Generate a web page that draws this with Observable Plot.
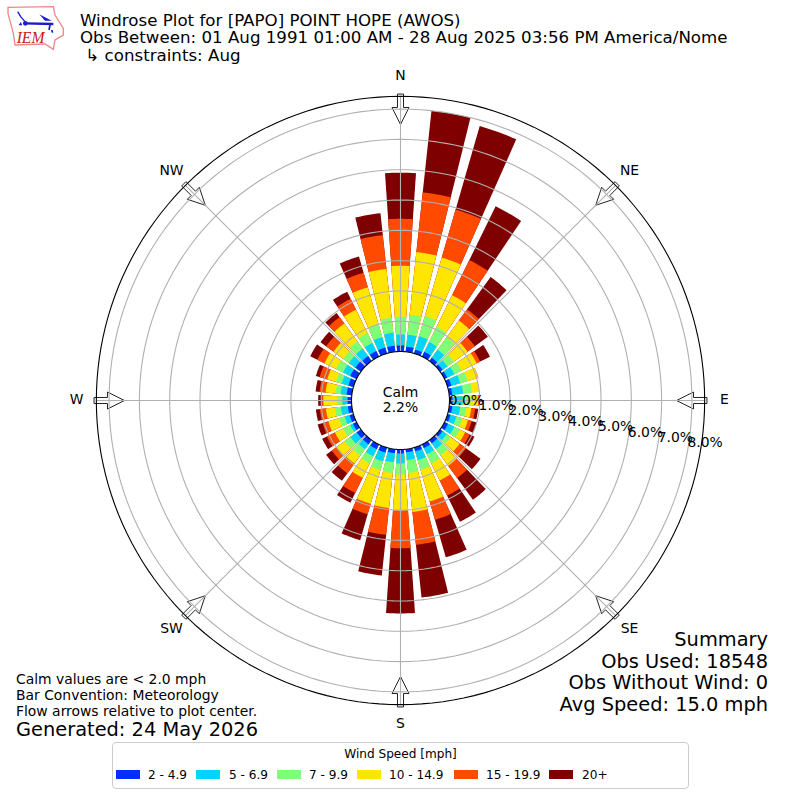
<!DOCTYPE html>
<html>
<head>
<meta charset="utf-8">
<script src="https://cdn.jsdelivr.net/npm/d3@7"></script>
<script src="https://cdn.jsdelivr.net/npm/@observablehq/plot@0.6"></script>
<style>
html,body{margin:0;padding:0;background:#fff;}
#wrap{position:relative;width:800px;height:800px;overflow:hidden;font-family:"DejaVu Sans",sans-serif;color:#000;}
#wrap svg{display:block;}
.t{position:absolute;white-space:pre;line-height:1;}
#legend{position:absolute;left:112px;top:742px;width:575px;height:45px;border:1px solid #ccc;border-radius:4px;background:#fff;box-sizing:content-box;}
#legend .lt{position:absolute;left:0;right:0;top:3px;text-align:center;font-size:12.1px;line-height:16px;}
#legend .sw{position:absolute;top:27px;height:9px;width:24px;}
#legend .lb{position:absolute;top:24px;font-size:12.1px;line-height:16px;white-space:pre;}
</style>
</head>
<body>
<div id="wrap"></div>
<script>
// Percent of observations per direction (every 10 degrees from N) and speed bin
const directions = d3.range(0, 360, 10);
const speedBins = ["2 - 4.9", "5 - 6.9", "7 - 9.9", "10 - 14.9", "15 - 19.9", "20+"];
const binColors = ["#0030ff", "#00d4ff", "#7dff7a", "#ffe600", "#ff4a00", "#7f0000"];
const bin2to5   = [.20,.17,.13,.17,.13,.10,.10,.13,.10,.10,.10,.10,.13,.10,.13,.13,.13,.10,.13,.13,.17,.17,.17,.17,.13,.13,.13,.13,.17,.17,.23,.23,.20,.20,.20,.20];
const bin5to7   = [.36,.40,.46,.36,.33,.20,.26,.30,.36,.33,.26,.20,.23,.17,.23,.23,.30,.26,.33,.30,.30,.26,.20,.26,.10,.17,.23,.17,.20,.23,.26,.26,.30,.30,.36,.43];
const bin7to10  = [.59,.66,.69,.56,.50,.26,.26,.26,.30,.26,.20,.20,.20,.17,.26,.33,.33,.43,.36,.36,.30,.26,.26,.23,.26,.20,.20,.17,.17,.20,.26,.23,.30,.36,.46,.50];
const bin10to15 = [1.68,2.08,2.01,1.16,.69,.56,.56,.36,.24,.26,.17,.20,.20,.36,.43,.63,1.09,1.29,1.19,1.16,1.16,.53,.33,.33,.30,.36,.30,.46,.33,.30,.43,.40,.73,.86,1.25,1.62];
const bin15to20 = [1.55,1.98,1.65,1.29,.46,.30,.13,.01,0,.05,.13,.13,.17,.26,.50,.56,.63,1.09,1.25,.89,.36,.56,.40,.20,.30,.20,.20,.07,.20,.26,.26,.30,.26,.40,.50,1.12];
const bin20up   = [1.52,2.71,2.87,1.98,1.32,.53,.36,0,0,0,.10,.17,.17,.59,.89,.96,1.29,1.75,2.15,1.35,.89,.36,.30,.23,.17,.17,.13,.10,.13,.13,.26,.23,.17,.26,.56,.73];
const binSeries = [bin2to5, bin5to7, bin7to10, bin10to15, bin15to20, bin20up];
const ringValues = [1,2,3,4,5,6,7,8];
const tickValues = [0,1,2,3,4,5,6,7,8];
const compass = [["N",0],["NE",45],["E",90],["SE",135],["S",180],["SW",225],["W",270],["NW",315]];

// Polar layout, in percent units
const hole = 1.617, rimPct = 8.42, halfWidth = 3.9, halfExtent = 13.2;
const rad = a => a * Math.PI / 180;
const polar = (p, a) => ({x: (hole + p) * Math.sin(rad(a)), y: (hole + p) * Math.cos(rad(a))});

function wedge(d, p) {
  const pts = [];
  for (let a = d - halfWidth; a <= d + halfWidth + 1e-6; a += halfWidth / 4) pts.push(polar(p, a));
  pts.push(polar(0, d + halfWidth), polar(0, d - halfWidth));
  return pts;
}
// Painter's order: each bin is drawn from the hole to its cumulative value, outermost first
const wedges = [];
directions.forEach((d, i) => {
  let cum = 0;
  const tops = binSeries.map(s => cum += s[i]);
  tops.forEach((top, b) => {
    if (binSeries[b][i] <= 0) return;
    wedge(d, top).forEach(pt => wedges.push({...pt, id: d + "-" + b, bin: speedBins[b], order: b}));
  });
});
const ring = p => d3.range(0, 361, 2).map(a => ({...polar(p, a), p}));
const rings = ringValues.flatMap(ring);
const spokes = d3.range(0, 360, 45).flatMap(a => [{...polar(0, a), a}, {...polar(rimPct, a), a}]);
const arrows = compass.flatMap(([name, a]) => {
  const s = Math.sin(rad(a)), c = Math.cos(rad(a));
  const tail = 10.1, neck = 9.67, tip = 9.11, sh = .1, hd = .28;
  return [[tail,-sh],[neck,-sh],[neck,-hd],[tip,0],[neck,hd],[neck,sh],[tail,sh]]
    .map(([u, v]) => ({x: u * s + v * c, y: u * c - v * s, name}));
});
const labelPts = compass.map(([name, a]) => ({...polar(9.07, a), name}));
const tickPts = tickValues.map(v => ({...polar(v, 100), label: v.toFixed(1) + "%"}));

const chart = Plot.plot({
  width: 800, height: 800, margin: 0,
  style: {fontFamily: '"DejaVu Sans", sans-serif', background: "transparent", color: "#000"},
  x: {domain: [-halfExtent, halfExtent], axis: null},
  y: {domain: [-halfExtent, halfExtent], axis: null},
  color: {domain: speedBins, range: binColors},
  marks: [
    ...[5,4,3,2,1,0].map(b => Plot.line(wedges.filter(w => w.order === b), {
      x: "x", y: "y", z: "id", fill: "bin", stroke: null, curve: "linear-closed"
    })),
    Plot.line(arrows, {x: "x", y: "y", z: "name", fill: "#fff", stroke: "#222", strokeWidth: 1, curve: "linear-closed"}),
    Plot.line(rings, {x: "x", y: "y", z: "p", stroke: "#b0b0b0", strokeWidth: 1.1}),
    Plot.line(spokes, {x: "x", y: "y", z: "a", stroke: "#b0b0b0", strokeWidth: 1.1}),
    Plot.line(ring(rimPct), {x: "x", y: "y", stroke: "#000", strokeWidth: 1.1}),
    Plot.line(ring(0), {x: "x", y: "y", fill: "#fff", stroke: "#000", strokeWidth: 1.1, curve: "linear-closed"}),
    Plot.text(tickPts, {x: "x", y: "y", text: "label", textAnchor: "start", dy: -8.5, fontSize: 13.9, fill: "#000"}),
    Plot.text(labelPts, {x: "x", y: "y", text: "name", fontSize: 13.9, dy: -1, fill: "#000"}),
    Plot.text(["Calm\n2.2%"], {x: 0, y: 0, text: d => d, fontSize: 13.9, lineHeight: 1.1, dy: -1, fill: "#000"})
  ]
});
const wrap = document.getElementById("wrap");
wrap.appendChild(chart);

// Header, footer and summary text
const notes = [
  ["Windrose Plot for [PAPO] POINT HOPE (AWOS)", 80, 21, 16.67, "l"],
  ["Obs Between: 01 Aug 1991 01:00 AM - 28 Aug 2025 03:56 PM America/Nome", 80, 38, 16.67, "l"],
  [" \u21B3 constraints: Aug", 80, 56, 16.67, "l"],
  ["Calm values are < 2.0 mph", 16, 680, 13.9, "l"],
  ["Bar Convention: Meteorology", 16, 696, 13.9, "l"],
  ["Flow arrows relative to plot center.", 16, 712, 13.9, "l"],
  ["Generated: 24 May 2026", 16, 730, 19.4, "l"],
  ["Summary", 768, 640, 19.4, "r"],
  ["Obs Used: 18548", 768, 662, 19.4, "r"],
  ["Obs Without Wind: 0", 768, 683, 19.4, "r"],
  ["Avg Speed: 15.0 mph", 768, 705, 19.4, "r"]
];
notes.forEach(([txt, x, y, fs, al]) => {
  const el = document.createElement("div");
  el.className = "t";
  el.textContent = txt;
  el.style.fontSize = fs + "px";
  el.style.top = (y - fs / 2) + "px";
  if (al === "l") el.style.left = x + "px"; else el.style.right = (800 - x) + "px";
  wrap.appendChild(el);
});

// Legend
const legend = document.createElement("div");
legend.id = "legend";
legend.innerHTML = '<div class="lt">Wind Speed [mph]</div>';
const swatchX = [3, 83, 164, 244, 341, 436];
const labelX = [35, 116, 196, 276, 373, 469];
speedBins.forEach((lab, i) => {
  const sw = document.createElement("div");
  sw.className = "sw"; sw.style.left = swatchX[i] + "px"; sw.style.background = binColors[i];
  const lb = document.createElement("div");
  lb.className = "lb"; lb.style.left = labelX[i] + "px"; lb.textContent = lab;
  legend.append(sw, lb);
});
wrap.appendChild(legend);

// IEM logo
const logo = document.createElement("div");
logo.style.cssText = "position:absolute;left:0;top:0;width:75px;height:55px";
logo.innerHTML = `<svg width="75" height="55" viewBox="0 0 225 165">
<path d="M24 22 L160 20 L165 45 L190 85 L190 105 L165 120 L160 148 L135 132 L45 135 L40 100 L24 40 Z" fill="#fff" stroke="#e88" stroke-width="4"/>
<path d="M75 70 L160 72" stroke="#1a1ad0" stroke-width="7" fill="none"/>
<path d="M53 35 L62 50 L75 65" stroke="#1a1ad0" stroke-width="4" fill="none"/>
<path d="M118 43 L155 62 L135 62 Z" fill="#1a1ad0"/>
<path d="M150 75 L147 90 M155 90 L158 98" stroke="#1a1ad0" stroke-width="5" fill="none"/>
<circle cx="76" cy="70" r="7" fill="#1a1ad0"/><path d="M56 76 L62 66 L67 76 Z" fill="#1a1ad0"/>
<text x="50" y="129" font-family="Liberation Serif" font-style="italic" font-size="47" fill="#c8201c">IEM</text>
</svg>`;
wrap.appendChild(logo);
</script>
</body>
</html>
